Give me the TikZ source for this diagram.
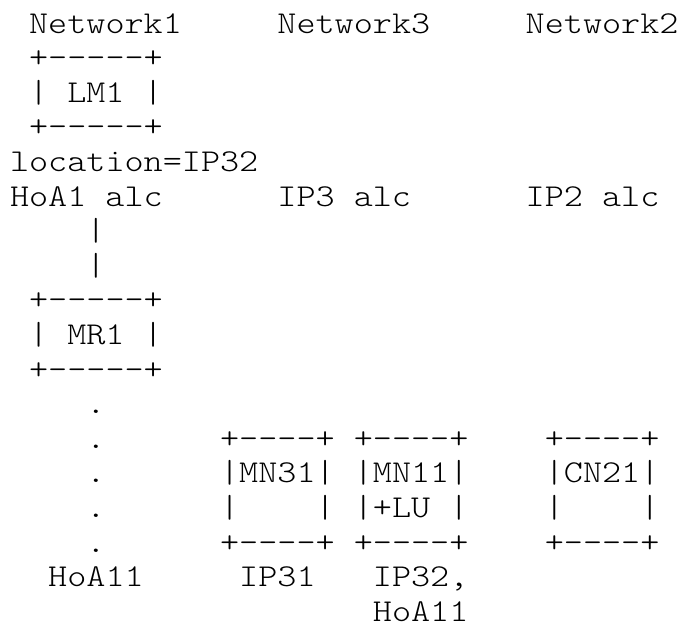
\documentclass[tikz,border=0pt]{standalone}
\usepackage{fontspec}
\setmonofont[FakeStretch=1.143]{lmmonolt10-regular.otf}
\usepackage{tikz}

\newcommand{\asciifont}{\ttfamily\fontsize{31.83pt}{34.6pt}\selectfont}

\begin{document}
\begin{tikzpicture}[
  x=19.1pt, y=-34.6pt,
  txt/.style={anchor=base west, inner sep=0pt, outer sep=0pt, font=\asciifont, text=black}
]
  \useasboundingbox (-10pt,33pt) rectangle (675pt,-591pt);

  % network names
  \node[txt] (net1) at (1,0) {Network1};
  \node[txt] (net3) at (14,0) {Network3};
  \node[txt] (net2) at (27,0) {Network2};

  % LM1
  \node[txt] (lm1-top) at (1,1) {+-----+};
  \node[txt] (lm1)     at (1,2) {| LM1 |};
  \node[txt] (lm1-bot) at (1,3) {+-----+};
  \node[txt] (loc)     at (0,4) {location=IP32};

  \node[txt] (hoa1) at (0,5)  {HoA1 alc};
  \node[txt] (ip3)  at (14,5) {IP3 alc};
  \node[txt] (ip2)  at (27,5) {IP2 alc};
  \foreach \r in {6,7}
    \node[txt] (link\r) at (4,\r) {|};

  % MR1
  \node[txt] (mr1-top) at (1,8)  {+-----+};
  \node[txt] (mr1)     at (1,9)  {| MR1 |};
  \node[txt] (mr1-bot) at (1,10) {+-----+};
  \foreach \r in {11,...,15}
    \node[txt] (dot\r) at (4,\r) {.};

  % MN31, MN11, CN21
  \foreach \c/\n in {11/mn31, 18/mn11, 28/cn21} {
    \node[txt] (\n-top) at (\c,12) {+----+};
    \node[txt] (\n-bot) at (\c,15) {+----+};
  }
  \node[txt] (mn31)     at (11,13) {|MN31|};
  \node[txt] (mn31-mid) at (11,14) {|\ \ \ \ |};
  \node[txt] (mn11)     at (18,13) {|MN11|};
  \node[txt] (mn11-mid) at (18,14) {|+LU |};
  \node[txt] (cn21)     at (28,13) {|CN21|};
  \node[txt] (cn21-mid) at (28,14) {|\ \ \ \ |};

  % addresses
  \node[txt] (hoa11)   at (2,16)  {HoA11};
  \node[txt] (ip31)    at (12,16) {IP31};
  \node[txt] (ip32)    at (19,16) {IP32,};
  \node[txt] (hoa11-b) at (19,17) {HoA11};
\end{tikzpicture}
\end{document}
